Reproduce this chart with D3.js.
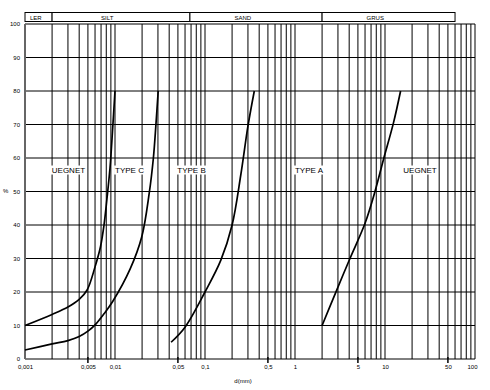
<!DOCTYPE html>
<html>
<head>
<meta charset="utf-8">
<script src="https://cdn.jsdelivr.net/npm/d3@7"></script>
<style>
  body { margin: 0; background: #fff; }
  text { font-family: "Liberation Sans", Arial, sans-serif; fill: #000; }
</style>
</head>
<body>
<div id="chartContainer"></div>
<script>
// grain size axis (mm) and percent axis
var xTickValues = [0.001, 0.005, 0.01, 0.05, 0.1, 0.5, 1, 5, 10, 50, 100];
var xTickLabels = ["0,001", "0,005", "0,01", "0,05", "0,1", "0,5", "1", "5", "10", "50", "100"];
var xMarks = [0.005, 0.05, 0.5, 5, 50];
var yTicks = [0, 10, 20, 30, 40, 50, 60, 70, 80, 90, 100];

// soil fractions across the top
var fractionNames = ["LER", "SILT", "SAND", "GRUS"];
var fractionLimits = [0.001, 0.002, 0.068, 2, 60];

// zone labels
var zoneNames = ["UEGNET", "TYPE C", "TYPE B", "TYPE A", "UEGNET"];
var zoneD = [0.00304, 0.0145, 0.0708, 1.43, 24.5];
var zoneP = 56.5;

// boundary curves (d in mm, passing %)
var curve1D = [0.001, 0.002, 0.003, 0.004, 0.0049, 0.006, 0.0069, 0.00755, 0.00815, 0.0088, 0.00938, 0.01];
var curve1P = [10, 13.3, 15.5, 17.8, 20.6, 27.5, 33.5, 40, 48, 57, 68, 80];
var curve2D = [0.001, 0.002, 0.003, 0.004, 0.005, 0.00615, 0.00755, 0.0095, 0.0147, 0.0198, 0.024, 0.0267, 0.0285, 0.0302];
var curve2P = [2.7, 4.5, 5.5, 6.7, 8.3, 10.5, 13.5, 17.3, 26.8, 36.4, 49.5, 60, 70, 80];
var curve3D = [0.042, 0.06, 0.1, 0.15, 0.2, 0.25, 0.3, 0.353];
var curve3P = [5, 9.5, 20, 29.5, 40, 55, 69.5, 80];
var curve4D = [2, 2.9, 4.08, 6, 7.74, 9.6, 12.4, 14.9];
var curve4P = [10, 20.5, 30, 40.5, 50, 59.5, 70.4, 80];

var width = 490, height = 390;
var margin = {top: 24, right: 15, bottom: 31, left: 25};

var svg = d3.select("#chartContainer")
    .append("svg")
    .attr("width", width)
    .attr("height", height);

var x = d3.scaleLog()
    .domain([0.001, 100])
    .range([margin.left, width - margin.right]);

var y = d3.scaleLinear()
    .domain([0, 100])
    .range([height - margin.bottom, margin.top]);

// vertical grid: every 1..9 in each decade
var gridX = [];
[0.001, 0.01, 0.1, 1, 10].forEach(function(dec) {
    for (var i = 1; i <= 9; i++) gridX.push(dec * i);
});
gridX.push(100);

svg.append("g")
    .selectAll("line")
    .data(gridX)
    .enter()
    .append("line")
    .attr("x1", function(d) { return x(d); })
    .attr("x2", function(d) { return x(d); })
    .attr("y1", y(0))
    .attr("y2", y(100))
    .attr("stroke", "#000")
    .attr("stroke-width", 1);

// horizontal grid
svg.append("g")
    .selectAll("line")
    .data(yTicks)
    .enter()
    .append("line")
    .attr("x1", x(0.001))
    .attr("x2", x(100))
    .attr("y1", function(d) { return y(d); })
    .attr("y2", function(d) { return y(d); })
    .attr("stroke", "#000")
    .attr("stroke-width", 1);

// left axis line
svg.append("line")
    .attr("x1", x(0.001)).attr("x2", x(0.001))
    .attr("y1", y(0)).attr("y2", y(100))
    .attr("stroke", "#666")
    .attr("stroke-width", 2);

// small marks under the axis
svg.append("g")
    .selectAll("line")
    .data(xMarks)
    .enter()
    .append("line")
    .attr("x1", function(d) { return x(d); })
    .attr("x2", function(d) { return x(d); })
    .attr("y1", y(0) - 2)
    .attr("y2", y(0) + 4)
    .attr("stroke", "#000")
    .attr("stroke-width", 1.5);

// y labels
var axisVertical = d3.axisLeft(y)
    .tickValues(yTicks)
    .tickSize(0)
    .tickPadding(5)
    .tickFormat(d3.format("d"));
var gy = svg.append("g")
    .attr("transform", "translate(" + margin.left + ",0)")
    .call(axisVertical);
gy.select(".domain").remove();
gy.selectAll("text").style("font-size", "6px").style("font-family", "Liberation Sans, Arial, sans-serif");

// x labels
var axisHorizontal = d3.axisBottom(x)
    .tickValues(xTickValues)
    .tickSize(0)
    .tickPadding(6)
    .tickFormat(function(d, i) { return xTickLabels[i]; });
var gx = svg.append("g")
    .attr("transform", "translate(0," + y(0) + ")")
    .call(axisHorizontal);
gx.select(".domain").remove();
gx.selectAll("text").style("font-size", "6px").style("font-family", "Liberation Sans, Arial, sans-serif");
gx.selectAll("text").filter(function(d) { return d === 100; })
    .attr("text-anchor", "end")
    .attr("dx", "2");

// axis titles
svg.append("text")
    .attr("x", 3)
    .attr("y", y(50))
    .attr("dy", "0.32em")
    .style("font-size", "6px")
    .text("%");
svg.append("text")
    .attr("x", 243)
    .attr("y", 383)
    .attr("text-anchor", "middle")
    .style("font-size", "6px")
    .text("d(mm)");

// fraction boxes at top
var header = svg.append("g");
fractionNames.forEach(function(name, i) {
    var x0 = x(fractionLimits[i]), x1 = x(fractionLimits[i + 1]);
    header.append("rect")
        .attr("x", x0)
        .attr("y", 12.5)
        .attr("width", x1 - x0)
        .attr("height", 9)
        .attr("fill", "#fff")
        .attr("stroke", "#000")
        .attr("stroke-width", 1);
    header.append("text")
        .attr("x", x0 + (x1 - x0) * 0.4)
        .attr("y", 19.5)
        .attr("text-anchor", "middle")
        .style("font-size", "6px")
        .text(name);
});

// curves
var line = d3.line()
    .x(function(d) { return x(d[0]); })
    .y(function(d) { return y(d[1]); })
    .curve(d3.curveCatmullRom.alpha(0.5));

[[curve1D, curve1P], [curve2D, curve2P], [curve3D, curve3P], [curve4D, curve4P]].forEach(function(c) {
    svg.append("path")
        .datum(d3.zip(c[0], c[1]))
        .attr("d", line)
        .attr("fill", "none")
        .attr("stroke", "#000")
        .attr("stroke-width", 1.7);
});

// zone labels with white background
zoneNames.forEach(function(name, i) {
    var g = svg.append("g");
    var t = g.append("text")
        .attr("x", x(zoneD[i]))
        .attr("y", y(zoneP))
        .attr("dy", "0.35em")
        .attr("text-anchor", "middle")
        .style("font-size", "8px")
        .text(name);
    var bb = t.node().getBBox();
    g.insert("rect", "text")
        .attr("x", bb.x - 1)
        .attr("y", bb.y)
        .attr("width", bb.width + 2)
        .attr("height", bb.height)
        .attr("fill", "#fff");
});
</script>
</body>
</html>
